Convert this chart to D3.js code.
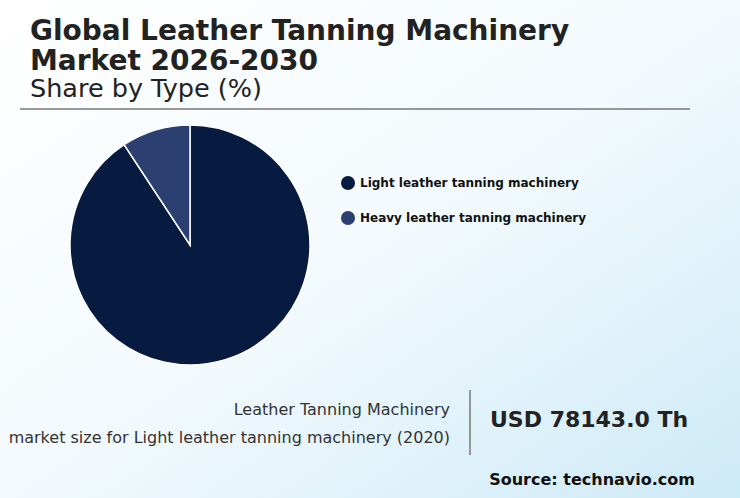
<!DOCTYPE html>
<html><head><meta charset="utf-8">
<script src="https://cdn.jsdelivr.net/npm/d3@7"></script>
<style>body{margin:0}svg{display:block;font-family:"DejaVu Sans",sans-serif}</style>
</head><body>
<script>
const categories = ["Light leather tanning machinery", "Heavy leather tanning machinery"];
const shares = [90.75, 9.25];
const colors = ["#071b41", "#2b3f70"];

const W = 740, H = 498;
const svg = d3.select("body").append("svg").attr("width", W).attr("height", H);
const defs = svg.append("defs");
const g = defs.append("linearGradient").attr("id","bg").attr("x1","0").attr("y1","0").attr("x2","1").attr("y2","1");
g.append("stop").attr("offset","0").attr("stop-color","#ffffff");
g.append("stop").attr("offset","0.5").attr("stop-color","#f3fafd");
g.append("stop").attr("offset","1").attr("stop-color","#cdeaf7");
svg.append("rect").attr("width",W).attr("height",H).attr("fill","url(#bg)");

svg.append("text").attr("x",30).attr("y",40).attr("font-size",28).attr("font-weight","bold").attr("fill","#222").text("Global Leather Tanning Machinery");
svg.append("text").attr("x",30).attr("y",70).attr("font-size",28).attr("font-weight","bold").attr("fill","#222").text("Market 2026-2030");
svg.append("text").attr("x",30).attr("y",97).attr("font-size",25.5).attr("fill","#222").text("Share by Type (%)");
svg.append("line").attr("x1",20).attr("x2",690).attr("y1",109).attr("y2",109).attr("stroke","#777").attr("stroke-width",1.5);

const pie = d3.pie().sort(null)(shares);
const arc = d3.arc().innerRadius(0).outerRadius(120);
svg.append("g").attr("transform","translate(190,245)").selectAll("path").data(pie).join("path")
  .attr("d",arc).attr("fill",(d,i)=>colors[i]).attr("stroke","#fff").attr("stroke-width",1.5);

const lg = svg.append("g").selectAll("g").data(categories).join("g").attr("transform",(d,i)=>`translate(348,${183+i*35})`);
lg.append("circle").attr("r",7).attr("fill",(d,i)=>colors[i]);
lg.append("text").attr("x",12).attr("y",4).attr("font-size",12).attr("font-weight","bold").attr("fill","#111").text(d=>d);

svg.append("text").attr("x",450).attr("y",415).attr("text-anchor","end").attr("font-size",16).attr("fill","#333").text("Leather Tanning Machinery");
svg.append("text").attr("x",450).attr("y",443).attr("text-anchor","end").attr("font-size",16).attr("fill","#333").text("market size for Light leather tanning machinery (2020)");
svg.append("line").attr("x1",470).attr("x2",470).attr("y1",390).attr("y2",455).attr("stroke","#777").attr("stroke-width",1.5);
svg.append("text").attr("x",490).attr("y",427).attr("font-size",22).attr("font-weight","bold").attr("fill","#222").text("USD 78143.0 Th");
svg.append("text").attr("x",695).attr("y",485).attr("text-anchor","end").attr("font-size",16).attr("font-weight","bold").attr("fill","#111").text("Source: technavio.com");
</script>
</body></html>
